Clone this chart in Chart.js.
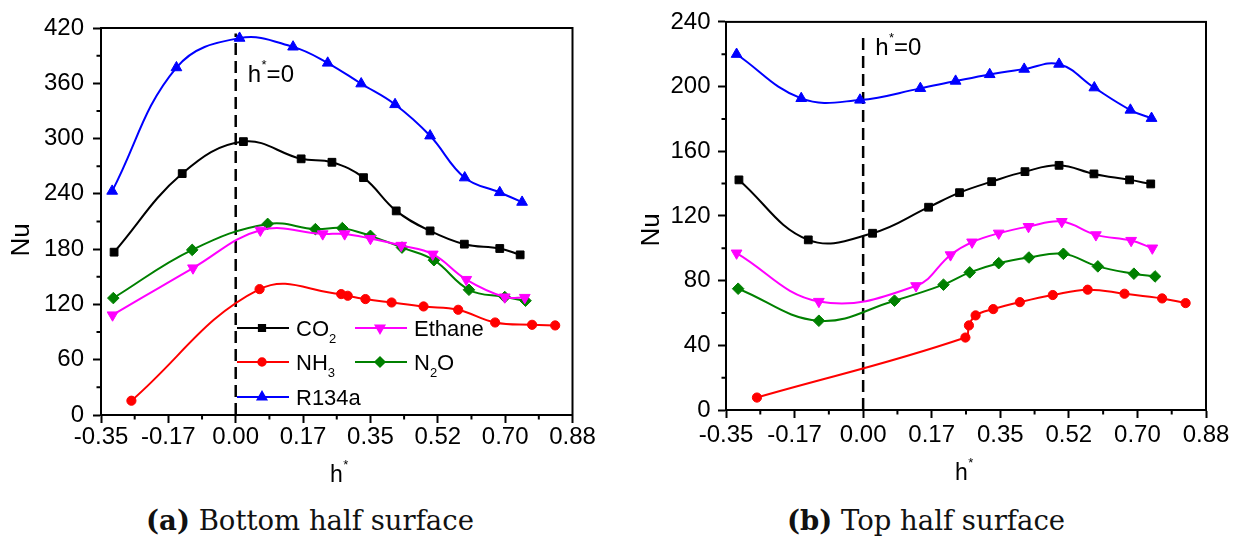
<!DOCTYPE html>
<html>
<head>
<meta charset="utf-8">
<script src="https://cdn.jsdelivr.net/npm/chart.js@4.4.1/dist/chart.umd.min.js"></script>
<style>
    body { margin: 0; width: 1238px; height: 540px; position: relative; background: #fff; overflow: hidden; }
    canvas { position: absolute; top: 0; }
    .caption { position: absolute; top: 503px; font-family: "DejaVu Serif", serif; font-size: 27.5px; line-height: 34px; color: #111; white-space: nowrap; text-align: center; }
    .caption b { font-weight: bold; }
</style>
</head>
<body>
<canvas id="bottomChart" width="610" height="500" style="left:0"></canvas>
<canvas id="topChart" width="618" height="500" style="left:620px"></canvas>
<div class="caption" style="left:60px;width:500px"><b>(a)</b> Bottom half surface</div>
<div class="caption" style="left:676px;width:500px"><b>(b)</b> Top half surface</div>
<script>
// h* axis ticks (shared by both panels)
const xTickValues = [-0.35, -0.175, 0, 0.175, 0.35, 0.525, 0.70, 0.875];
const xTickLabels = ["-0.35", "-0.17", "0.00", "0.17", "0.35", "0.52", "0.70", "0.88"];

// (a) bottom half surface
const bottomH_CO2 = [-0.316, -0.139, 0.020, 0.170, 0.250, 0.332, 0.417, 0.505, 0.594, 0.686, 0.739];
const bottomNu_CO2 = [176.7, 262, 296.7, 278, 274.3, 257.6, 221.5, 199.8, 185.4, 180.7, 173.8];
const bottomH_NH3 = [-0.271, 0.062, 0.274, 0.291, 0.337, 0.405, 0.488, 0.578, 0.674, 0.770, 0.830];
const bottomNu_NH3 = [15.5, 136.6, 131.2, 129.4, 125.8, 122.1, 117.8, 114.2, 100.4, 97.9, 97.2];
const bottomH_R134a = [-0.321, -0.154, 0.010, 0.149, 0.239, 0.326, 0.414, 0.505, 0.595, 0.686, 0.744];
const bottomNu_R134a = [243, 377, 409, 399.5, 382, 359.5, 337, 303, 257.5, 241.5, 231];
const bottomH_Ethane = [-0.320, -0.111, 0.064, 0.226, 0.283, 0.350, 0.430, 0.512, 0.599, 0.699, 0.751];
const bottomNu_Ethane = [108.5, 159.5, 200.5, 196.5, 196.5, 191.5, 184, 174.5, 147, 128, 127.5];
const bottomH_N2O = [-0.318, -0.113, 0.083, 0.207, 0.277, 0.350, 0.432, 0.515, 0.606, 0.699, 0.753];
const bottomNu_N2O = [126.9, 179.2, 207.4, 201.7, 202.8, 194.4, 181.7, 168, 135.9, 128, 124];

// (b) top half surface
const topH_CO2 = [-0.317, -0.140, 0.024, 0.167, 0.246, 0.328, 0.413, 0.500, 0.589, 0.680, 0.734];
const topNu_CO2 = [142.3, 105.2, 109.3, 125.4, 134.4, 141.2, 147.4, 151.3, 146, 142.3, 139.8];
const topH_NH3 = [-0.271, 0.261, 0.270, 0.287, 0.332, 0.400, 0.484, 0.573, 0.667, 0.763, 0.823];
const topNu_NH3 = [7.7, 44.8, 52.3, 58.5, 62.4, 66.7, 71.1, 74.4, 71.9, 69, 66.1];
const topH_R134a = [-0.323, -0.158, -0.008, 0.146, 0.236, 0.323, 0.411, 0.500, 0.590, 0.682, 0.736];
const topNu_R134a = [220, 192.7, 191.7, 198.9, 203.4, 207.5, 210.8, 213.9, 199.3, 185.5, 180.4];
const topH_Ethane = [-0.323, -0.113, 0.135, 0.223, 0.278, 0.346, 0.422, 0.507, 0.594, 0.684, 0.738];
const topNu_Ethane = [97, 67.1, 76.8, 95.9, 103.8, 109.3, 113.4, 116.5, 108.3, 104.8, 100.1];
const topH_N2O = [-0.319, -0.113, 0.080, 0.205, 0.272, 0.346, 0.423, 0.511, 0.599, 0.691, 0.745];
const topNu_N2O = [75, 55.2, 67.6, 77.5, 85.1, 90.8, 94.3, 96.6, 88.8, 84.3, 82.6];

const fluidStyles = {
    CO2: { color: "#000000", pointStyle: "rect", radius: 5.5, rotation: 0 },
    NH3: { color: "#ff0000", pointStyle: "circle", radius: 4.6, rotation: 0 },
    R134a: { color: "#0000ff", pointStyle: "triangle", radius: 6.2, rotation: 0 },
    Ethane: { color: "#ff00ff", pointStyle: "triangle", radius: 6.2, rotation: 180 },
    N2O: { color: "#008000", pointStyle: "rectRot", radius: 5.8, rotation: 0 }
};

// label pieces: [text, isSubscript]
const legendText = {
    CO2: [["CO", 0], ["2", 1]],
    NH3: [["NH", 0], ["3", 1]],
    N2O: [["N", 0], ["2", 1], ["O", 0]],
    Ethane: [["Ethane", 0]],
    R134a: [["R134a", 0]]
};

const tickFont = { family: "Liberation Sans", size: 24 };

function makeDataset(name, hs, nus) {
    const st = fluidStyles[name];
    return {
        label: name,
        data: hs.map((h, i) => ({ x: h, y: nus[i] })),
        borderColor: st.color,
        backgroundColor: st.color,
        pointBackgroundColor: st.color,
        pointBorderColor: st.color,
        pointBorderWidth: 1,
        pointStyle: st.pointStyle,
        pointRadius: st.radius,
        pointRotation: st.rotation,
        borderWidth: 2,
        tension: 0.4,
        fill: false
    };
}

function dashedZero(top) {
    return {
        label: "h0",
        data: [{ x: 0, y: 0 }, { x: 0, y: top }],
        borderColor: "#000",
        borderWidth: 2.5,
        borderDash: [12, 6],
        pointRadius: 0,
        tension: 0,
        fill: false
    };
}

// h with a raised asterisk, followed by optional text
function drawHStar(ctx, x, y, size, rest) {
    ctx.font = size + "px 'Liberation Sans'";
    ctx.textBaseline = "alphabetic";
    ctx.textAlign = "left";
    ctx.fillText("h", x, y);
    let w = ctx.measureText("h").width;
    ctx.font = Math.round(size * 0.55) + "px 'Liberation Sans'";
    ctx.fillText("*", x + w + 0.5, y - size * 0.55);
    const ws = ctx.measureText("*").width;
    if (rest) {
        ctx.font = size + "px 'Liberation Sans'";
        ctx.fillText(rest, x + w + ws + 0.5, y);
    }
}

function drawLegendLabel(ctx, pieces, x, y) {
    let cx = x;
    pieces.forEach(([t, sub]) => {
        ctx.font = sub ? "13px 'Liberation Sans'" : "22px 'Liberation Sans'";
        ctx.fillText(t, cx, sub ? y + 7 : y);
        cx += ctx.measureText(t).width;
    });
}

function decorPlugin(opts) {
    return {
        id: "decor",
        afterDraw(chart) {
            const ctx = chart.ctx;
            const area = chart.chartArea;
            const xs = chart.scales.x;
            const ys = chart.scales.y;
            ctx.save();
            ctx.strokeStyle = "#000";
            ctx.fillStyle = "#000";
            ctx.lineWidth = 2;
            ctx.strokeRect(area.left, area.top, area.right - area.left, area.bottom - area.top);

            // minor ticks halfway between the labelled ones
            ctx.beginPath();
            for (let i = 0; i < xTickValues.length - 1; i++) {
                const px = xs.getPixelForValue((xTickValues[i] + xTickValues[i + 1]) / 2);
                ctx.moveTo(px, area.bottom);
                ctx.lineTo(px, area.bottom + 4.5);
            }
            for (let v = opts.yStep / 2; v < opts.yMax; v += opts.yStep) {
                const py = ys.getPixelForValue(v);
                ctx.moveTo(area.left, py);
                ctx.lineTo(area.left - 4.5, py);
            }
            ctx.stroke();

            // axis titles
            ctx.save();
            ctx.translate(opts.nuX, opts.nuY);
            ctx.rotate(-Math.PI / 2);
            ctx.font = "26px 'Liberation Sans'";
            ctx.textAlign = "center";
            ctx.textBaseline = "middle";
            ctx.fillText("Nu", 0, 0);
            ctx.restore();
            drawHStar(ctx, opts.hX, opts.hY, 23, "");

            // h*=0 marker text next to the dashed line
            drawHStar(ctx, xs.getPixelForValue(0) + 12, area.top + opts.annY, 24, "=0");

            if (opts.legend) {
                opts.legend.forEach(item => {
                    const st = fluidStyles[item.name];
                    ctx.strokeStyle = st.color;
                    ctx.fillStyle = st.color;
                    ctx.lineWidth = 2;
                    ctx.beginPath();
                    ctx.moveTo(item.x, item.y);
                    ctx.lineTo(item.x + 52, item.y);
                    ctx.stroke();
                    Chart.helpers.drawPoint(ctx, {
                        pointStyle: st.pointStyle,
                        radius: st.radius * 0.8,
                        rotation: st.rotation,
                        borderWidth: 1
                    }, item.x + 25, item.y);
                    ctx.fillStyle = "#000";
                    ctx.textAlign = "left";
                    ctx.textBaseline = "alphabetic";
                    drawLegendLabel(ctx, legendText[item.name], item.x + 59, item.y + 8);
                });
            }
            ctx.restore();
        }
    };
}

function buildChart(canvasId, datasets, cfg) {
    const canvas = document.getElementById(canvasId);
    return new Chart(canvas, {
        type: "line",
        data: { datasets: datasets },
        options: {
            responsive: false,
            animation: false,
            devicePixelRatio: 1,
            layout: { padding: { top: cfg.top, right: canvas.width - cfg.right, left: 0, bottom: 0 } },
            plugins: { legend: { display: false }, tooltip: { enabled: false } },
            scales: {
                x: {
                    type: "linear",
                    min: -0.35,
                    max: 0.875,
                    afterFit: s => { s.height = canvas.height - cfg.bottom; },
                    afterBuildTicks: s => { s.ticks = xTickValues.map(v => ({ value: v })); },
                    ticks: {
                        callback: (v, i) => xTickLabels[i],
                        font: tickFont,
                        color: "#000",
                        padding: cfg.xPad,
                        maxRotation: 0,
                        autoSkip: false
                    },
                    grid: { drawOnChartArea: false, tickLength: 8, tickWidth: 2, tickColor: "#000" },
                    border: { display: true, color: "#000", width: 2 }
                },
                y: {
                    min: 0,
                    max: cfg.yMax,
                    afterFit: s => { s.width = cfg.left; },
                    ticks: { stepSize: cfg.yStep, font: tickFont, color: "#000", padding: cfg.yPad },
                    grid: { drawOnChartArea: false, tickLength: 8, tickWidth: 2, tickColor: "#000" },
                    border: { display: true, color: "#000", width: 2 }
                }
            }
        },
        plugins: [decorPlugin(cfg)]
    });
}

buildChart("bottomChart", [
    makeDataset("CO2", bottomH_CO2, bottomNu_CO2),
    makeDataset("NH3", bottomH_NH3, bottomNu_NH3),
    makeDataset("R134a", bottomH_R134a, bottomNu_R134a),
    makeDataset("Ethane", bottomH_Ethane, bottomNu_Ethane),
    makeDataset("N2O", bottomH_N2O, bottomNu_N2O),
    dashedZero(414)
], {
    left: 101, right: 572.5, top: 28, bottom: 415,
    yMax: 420, yStep: 60, xPad: 0, yPad: 9,
    nuX: 22, nuY: 240, hX: 330, hY: 482, annY: 54,
    legend: [
        { name: "CO2", x: 237, y: 328 },
        { name: "Ethane", x: 355, y: 328 },
        { name: "NH3", x: 237, y: 362 },
        { name: "N2O", x: 355, y: 362 },
        { name: "R134a", x: 237, y: 397 }
    ]
});

buildChart("topChart", [
    makeDataset("CO2", topH_CO2, topNu_CO2),
    makeDataset("NH3", topH_NH3, topNu_NH3),
    makeDataset("R134a", topH_R134a, topNu_R134a),
    makeDataset("Ethane", topH_Ethane, topNu_Ethane),
    makeDataset("N2O", topH_N2O, topNu_N2O),
    dashedZero(232)
], {
    left: 106, right: 586, top: 20, bottom: 410,
    yMax: 240, yStep: 40, xPad: 2.5, yPad: 7.5,
    nuX: 32, nuY: 230, hX: 335, hY: 480, annY: 33
});
</script>
</body>
</html>
